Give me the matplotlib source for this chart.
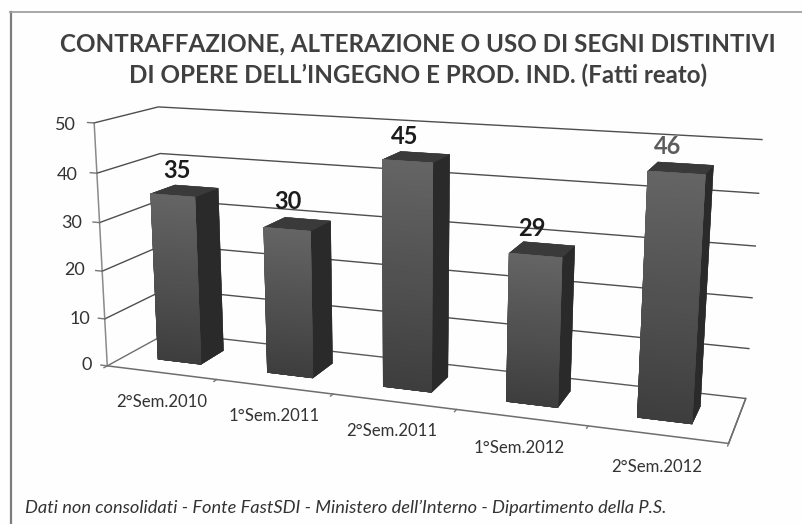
import numpy as np
import matplotlib
matplotlib.use("Agg")
import matplotlib.pyplot as plt
from matplotlib.colors import to_rgb

plt.rcParams['font.family'] = ['Lato', 'DejaVu Sans']

categories = ['2°Sem.2010', '1°Sem.2011', '2°Sem.2011', '1°Sem.2012', '2°Sem.2012']
values = [35, 30, 45, 29, 46]
z_ticks = [0, 10, 20, 30, 40, 50]

# text anchors, in reference pixels
cat_xy = [(162, 402), (274, 416), (392, 431), (519, 448), (657, 467)]
val_xy = [(177, 170), (288, 202), (405, 136), (532, 228), (668, 147)]
val_colors = ['#1c1c1c', '#1c1c1c', '#1c1c1c', '#1c1c1c', '#5c5c5c']
tick_xy = [(92, 365), (90, 319), (85, 270), (82, 223), (78, 175), (76, 125)]

W, H = 803, 524
BG = '#fefefe'


def fx(x):
    return x / W


def fy(y):
    return 1 - y / H


def mix(c1, c2, t):
    a, b = np.array(to_rgb(c1)), np.array(to_rgb(c2))
    return tuple(a + (b - a) * t)


fig = plt.figure(figsize=(W / 100, H / 100), dpi=100, facecolor=BG)

# camera fitted to the corners of the reference's box
S, tx, ty = 687.44, 63.16, -88.10
ax = fig.add_axes([tx / W, ty / H, S / W, S / H], projection='3d', computed_zorder=False)
ax.set_xlim(0, 5)
ax.set_ylim(0, 1)
ax.set_zlim(0, 50)
ax.view_init(13.956, -70.299, -0.127)
ax.set_proj_type('persp', focal_length=0.3747)
ax.set_box_aspect((4, 0.791, 1.5965))
ax.set_axis_off()
ax.patch.set_alpha(0)

# floor and walls
ax.plot([0, 5, 5], [1, 1, 0], [0, 0, 0], color='#5a5a5a', lw=1.0, zorder=1, clip_on=False)
ax.plot([1e-3, 5, 5], [0, 0, 1], [0, 0, 0], color='#6e6e6e', lw=1.1, zorder=1, clip_on=False)
ax.plot([0, 0], [0, 1], [0, 0], color='#6e6e6e', lw=1.0, zorder=1, clip_on=False)
ax.plot([0, 0], [0, 0], [0, 50], color='#8a8a8a', lw=1.1, zorder=1, clip_on=False)
for z in z_ticks[1:]:
    ax.plot([0, 0, 5], [0, 1, 1], [z, z, z], color='#4e4e4e', lw=1.0, zorder=1, clip_on=False)
for z in z_ticks:
    ax.plot([0, -0.06], [0, 0], [z, z], color='#777777', lw=1.0, zorder=1, clip_on=False)
for i in range(6):
    ax.plot([i, i], [0, -0.05], [0, 0], color='#777777', lw=1.0, zorder=1, clip_on=False)

# bars: a dark box, then thin slices on its front for the vertical shading
n_slices = 40
for i, v in enumerate(values):
    box = ['#262626', '#3a3a3a', '#2a2a2a', '#2a2a2a', '#2a2a2a', '#2a2a2a']
    ax.bar3d(i + 0.3, 0.3, 0, 0.4, 0.4, v, color=box, edgecolor=box, linewidth=0.3,
             shade=False, zorder=3 + i)
    edges = np.linspace(0, v, n_slices + 1)
    for k in range(n_slices):
        t = (k + 0.5) / n_slices
        front = mix('#3e3e3e', '#646464', t)
        ax.bar3d(i + 0.3, 0.3, edges[k], 0.4, 0, edges[k + 1] - edges[k],
                 color=[front] * 6, edgecolor=[front] * 6, linewidth=0.4, shade=False,
                 zorder=3.1 + i + 0.8 * k / n_slices)

# frame, only left and top like the scan
fig.add_artist(plt.Line2D([fx(11.5), fx(11.5)], [fy(524), fy(12)], color='#7d7d7d', lw=1.6))
fig.add_artist(plt.Line2D([fx(10.5), fx(803)], [fy(12), fy(12)], color='#9a9a9a', lw=1.2))

fig.text(fx(418), fy(44), 'CONTRAFFAZIONE, ALTERAZIONE O USO DI SEGNI DISTINTIVI',
         ha='center', va='center', fontsize=17.35, fontweight='bold', color='#404040')
fig.text(fx(418), fy(75), 'DI OPERE DELL’INGEGNO E PROD. IND. (Fatti reato)',
         ha='center', va='center', fontsize=17.35, fontweight='bold', color='#404040')
fig.text(fx(25), fy(508), 'Dati non consolidati - Fonte FastSDI - Ministero dell’Interno - Dipartimento della P.S.',
         ha='left', va='center', fontsize=13.15, fontstyle='italic', color='#333333')

for z, (x, y) in zip(z_ticks, tick_xy):
    fig.text(fx(x), fy(y), str(z), ha='right', va='center', fontsize=13, color='#333333')
for name, (x, y) in zip(categories, cat_xy):
    fig.text(fx(x), fy(y), name, ha='center', va='center', fontsize=12.1, color='#333333')
for v, (x, y), c in zip(values, val_xy, val_colors):
    fig.text(fx(x), fy(y), str(v), ha='center', va='center', fontsize=17, fontweight='bold', color=c)

fig.savefig('out.png', dpi=100, facecolor=BG)
